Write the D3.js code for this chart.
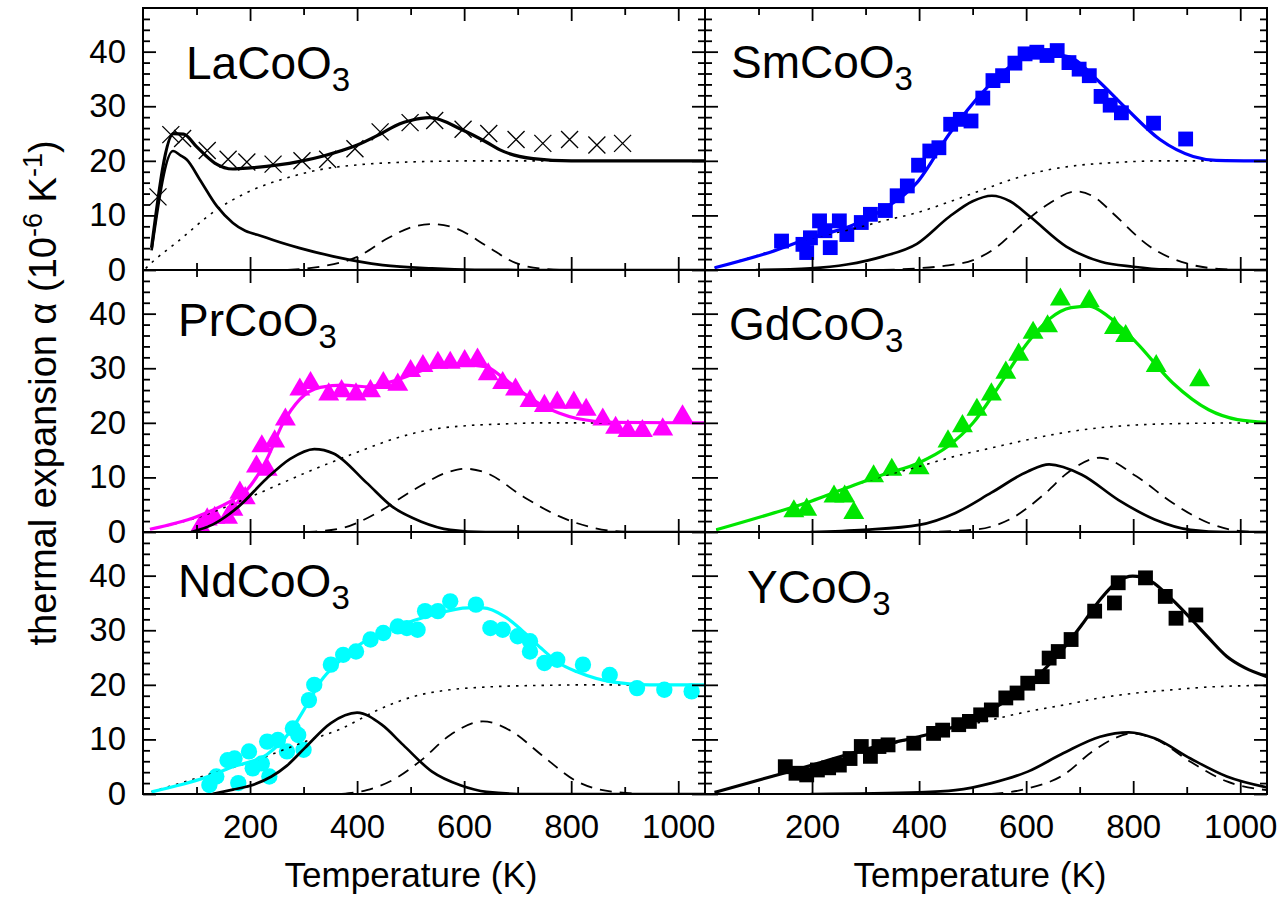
<!DOCTYPE html>
<html><head><meta charset="utf-8">
<script src="https://cdn.jsdelivr.net/npm/d3@7"></script>
<style>
html,body{margin:0;padding:0;background:#fff;}
svg text{font-family:"Liberation Sans",Arial,sans-serif;fill:#000;}
</style></head><body>
<svg id="chart" width="1280" height="903"></svg>
<script>
// ---------------- data (T in K, alpha in 1e-6 K^-1) ----------------
const xTicksMajor = [200, 400, 600, 800, 1000];
const xTicksMinor = [100, 300, 500, 700, 900];
const yTicksMajor = [0, 10, 20, 30, 40];
const yTicksMinor = [2, 4, 6, 8, 12, 14, 16, 18, 22, 24, 26, 28, 32, 34, 36, 38, 42, 44, 46];

// LaCoO3
const laData = [[28,13.4],[52,24.8],[74,24.1],[120,21.9],[159,20.3],[194,19.8],[243,19.4],[297,20.0],[345,20.3],[396,22.2],[443,25.3],[499,27.0],[545,27.4],[598,25.8],[646,25.0],[697,23.9],[747,23.2],[797,23.9],[848,22.9],[896,23.2]];
const laFit = [[16,4.1],[57,25.0],[76,24.9],[100,22.6],[134,19.6],[168,18.5],[201,18.7],[293,19.9],[337,20.9],[398,22.8],[445,25.0],[480,26.8],[500,27.4],[536,27.9],[598,25.6],[642,23.4],[667,22.0],[729,20.4],[800,20.0],[1050,20.0]];
const laComp1 = [[16,3.6],[56,21.8],[70,21.0],[82,20.2],[106,16.6],[138,11.7],[168,8.6],[231,5.9],[293,4.0],[355,2.5],[448,0.9],[540,0.3],[620,0.05],[700,0],[1050,0]];
const laComp2 = [[270,0],[337,0.7],[398,2.3],[459,5.9],[500,7.8],[540,8.4],[588,7.5],[642,4.4],[696,1.3],[744,0.25],[800,0],[1050,0]];
const laLattice = [[5,0.3],[19,1.6],[66,5.3],[134,10.8],[201,14.5],[270,16.9],[337,18.5],[405,19.3],[473,19.7],[540,19.9],[640,20.0],[1050,20.0]];

// SmCoO3
const smData = [[143,5.3],[183,4.7],[190,3.2],[197,5.9],[214,9.0],[224,7.2],[234,4.1],[251,9.0],[265,6.5],[292,8.7],[309,10.2],[337,10.9],[359,13.6],[378,15.4],[399,19.2],[420,21.8],[437,22.4],[459,26.7],[477,27.6],[497,27.3],[519,31.5],[538,34.7],[556,35.6],[579,37.9],[598,39.6],[620,39.9],[639,39.3],[658,40.2],[680,38.0],[699,36.8],[718,35.6],[740,31.8],[757,30.2],[778,28.8],[838,26.9],[898,24.0]];
const smFit = [[18,0.4],[129,3.5],[197,5.9],[271,8.0],[333,11.1],[396,16.0],[457,25.0],[519,32.6],[582,38.1],[632,39.7],[682,39.0],[731,35.0],[788,29.5],[850,23.9],[912,20.8],[955,20.1],[1050,20.0]];
const smComp1 = [[95,0],[197,0.3],[265,1.0],[333,2.5],[396,4.8],[457,9.8],[500,12.6],[536,13.6],[570,12.6],[607,9.8],[675,4.3],[740,1.5],[800,0.6],[860,0.1],[950,0],[1050,0]];
const smComp2 = [[332,0],[396,0.3],[450,0.8],[501,1.8],[545,4.2],[588,8.0],[640,12.0],[694,14.4],[730,13.2],[762,10.4],[831,4.3],[900,1.2],[960,0.2],[1009,0],[1050,0]];
const smLattice = [[18,0.4],[129,3.6],[197,5.8],[271,7.4],[333,9.0],[396,10.5],[460,12.6],[519,14.7],[580,16.8],[644,18.4],[700,19.2],[769,19.7],[850,20.0],[1050,20.0]];

// PrCoO3
const prData = [[107,1.0],[120,2.3],[134,2.6],[158,2.6],[168,4.1],[181,7.2],[191,6.2],[212,12.0],[232,11.4],[222,15.7],[246,16.6],[266,20.6],[293,26.1],[313,27.3],[347,25.2],[371,25.8],[398,25.2],[425,25.8],[449,27.3],[476,27.0],[500,29.5],[523,30.4],[551,31.0],[574,31.0],[601,31.3],[625,31.6],[645,28.9],[672,27.3],[696,26.1],[723,24.0],[750,23.1],[774,23.7],[805,23.7],[828,22.4],[859,20.6],[883,19.1],[906,18.5],[933,18.5],[971,18.8],[1008,21.2]];
const prFit = [[13,0.5],[100,2.8],[168,5.9],[190,7.3],[231,13.3],[262,20.0],[293,24.3],[331,26.5],[375,26.9],[418,26.6],[473,27.8],[540,30.1],[600,30.6],[640,30.3],[676,28.0],[710,25.5],[744,23.3],[777,21.8],[811,20.8],[879,20.1],[1050,20.0]];
const prComp1 = [[90,0],[131,1.4],[178,4.6],[231,9.8],[275,13.4],[320,15.2],[356,14.4],[418,9.0],[465,4.7],[520,1.9],[574,0.4],[640,0],[1050,0]];
const prComp2 = [[303,0],[371,0.7],[439,3.6],[507,7.8],[574,11.1],[601,11.6],[642,10.8],[710,6.5],[777,2.9],[845,0.7],[913,0],[1050,0]];
const prLattice = [[13,0.5],[100,2.6],[202,6.5],[303,10.8],[405,14.8],[473,17.2],[540,18.8],[608,19.5],[676,19.8],[744,20.0],[1050,20.0]];

// GdCoO3
const gdData = [[166,3.8],[190,4.1],[241,6.5],[261,6.5],[278,3.5],[315,10.2],[349,11.4],[400,11.7],[454,16.6],[481,19.4],[508,22.4],[535,25.2],[562,29.2],[586,32.5],[613,36.5],[640,37.7],[664,42.6],[718,42.3],[765,37.4],[786,35.9],[843,30.4],[924,27.8]];
const gdFit = [[21,0.4],[129,3.5],[197,5.6],[265,8.1],[332,10.5],[400,12.7],[454,15.7],[501,20.0],[549,26.7],[603,34.7],[643,39.0],[684,41.1],[718,41.4],[752,39.6],[806,34.7],[874,27.3],[941,22.4],[995,20.6],[1050,20.1]];
const gdComp1 = [[197,0],[298,0.4],[400,1.3],[468,3.5],[535,7.2],[603,11.1],[643,12.4],[704,10.5],[772,5.9],[840,2.3],[907,0.4],[975,0],[1050,0]];
const gdComp2 = [[400,0],[501,0.4],[569,2.3],[637,7.2],[677,10.8],[738,13.6],[806,10.2],[874,5.3],[941,1.65],[1009,0.1],[1050,0]];
const gdLattice = [[21,0.4],[129,3.5],[197,5.6],[265,8.1],[332,10.2],[400,12.0],[468,13.9],[535,15.4],[603,16.9],[670,18.2],[738,19.1],[806,19.6],[907,19.9],[1050,20.0]];

// NdCoO3
const ndData = [[124,1.65],[137,3.2],[158,6.2],[171,6.5],[178,2.0],[198,7.8],[205,4.7],[222,5.6],[236,3.2],[232,9.6],[252,9.9],[269,7.8],[280,12.0],[290,10.8],[300,8.1],[310,17.2],[320,20.0],[351,23.7],[374,25.5],[398,26.1],[425,28.3],[449,29.5],[476,30.7],[493,30.4],[513,30.1],[527,33.5],[551,33.5],[574,35.3],[622,34.7],[649,30.4],[672,30.1],[700,28.9],[723,28.0],[723,26.1],[750,24.0],[774,24.6],[822,23.7],[872,21.8],[923,19.4],[974,19.1],[1025,18.8]];
const ndFit = [[16,0.4],[119,3.1],[168,5.0],[231,7.2],[274,11.3],[306,16.3],[333,20.8],[362,23.9],[405,27.4],[473,30.6],[540,32.8],[608,34.1],[635,34.1],[676,32.5],[710,29.8],[744,26.7],[777,24.0],[811,22.4],[879,20.5],[947,20.0],[1050,20.0]];
const ndComp1 = [[130,0],[168,0.8],[200,1.5],[240,3.2],[269,5.2],[303,8.5],[351,13.0],[400,14.9],[446,12.7],[486,9.0],[540,4.1],[593,1.6],[642,0.4],[720,0],[1050,0]];
const ndComp2 = [[371,0],[418,0.7],[473,2.9],[520,6.2],[574,10.8],[635,13.3],[690,11.4],[744,7.2],[811,2.3],[879,0.4],[947,0],[1050,0]];
const ndLattice = [[16,0.4],[100,2.9],[202,5.9],[303,9.6],[371,12.0],[439,15.4],[507,17.9],[574,19.1],[642,19.6],[744,19.9],[850,20.0],[1050,20.0]];

// YCoO3
const yData = [[150,5.0],[170,3.8],[190,3.5],[210,4.4],[231,4.8],[251,5.3],[271,6.5],[292,8.7],[309,6.9],[325,8.7],[342,9.0],[390,9.3],[427,11.1],[444,11.7],[474,12.7],[494,13.3],[515,14.5],[535,15.4],[562,17.6],[583,18.5],[603,20.3],[630,21.5],[643,24.9],[660,26.1],[684,28.3],[728,33.5],[765,35.0],[772,38.7],[823,39.6],[860,36.2],[880,32.2],[917,32.8]];
const yFit = [[18,0.3],[150,3.9],[197,5.2],[265,7.2],[332,9.0],[400,10.5],[468,12.4],[535,15.4],[603,20.0],[670,26.7],[704,31.0],[738,35.6],[772,39.0],[799,39.9],[833,39.0],[873,35.6],[907,32.2],[941,28.6],[975,25.2],[1009,23.1],[1050,21.5]];
const yComp1 = [[197,0],[400,0.3],[468,0.7],[535,2.0],[603,4.1],[670,7.5],[738,10.5],[792,11.3],[840,10.2],[907,6.5],[975,3.2],[1050,1.2]];
const yComp2 = [[535,0],[603,1.0],[670,3.5],[724,7.8],[765,10.2],[799,11.1],[840,10.1],[907,5.9],[975,2.3],[1050,0.7]];
const yLattice = [[18,0.3],[197,5.2],[332,8.7],[434,11.4],[522,13.3],[603,15.1],[670,16.3],[738,17.6],[806,18.5],[873,19.1],[941,19.6],[1050,19.9]];

const formulas = ["LaCoO", "SmCoO", "PrCoO", "GdCoO", "NdCoO", "YCoO"];

// ---------------- layout & styling ----------------
const colX = [143, 705], rowY = [8, 270, 532];
const W = 562, H = 262;
const panels = [
  {f:0, col:0, row:0, data:laData, fit:laFit, c1:laComp1, c2:laComp2, lat:laLattice, marker:"cross",    color:"#000000", lx:43, ly:71},
  {f:1, col:1, row:0, data:smData, fit:smFit, c1:smComp1, c2:smComp2, lat:smLattice, marker:"square",   color:"#0000ff", lx:26, ly:70},
  {f:2, col:0, row:1, data:prData, fit:prFit, c1:prComp1, c2:prComp2, lat:prLattice, marker:"triangle", color:"#ff00ff", lx:35, ly:66},
  {f:3, col:1, row:1, data:gdData, fit:gdFit, c1:gdComp1, c2:gdComp2, lat:gdLattice, marker:"triangle", color:"#00e600", lx:24, ly:70},
  {f:4, col:0, row:2, data:ndData, fit:ndFit, c1:ndComp1, c2:ndComp2, lat:ndLattice, marker:"circle",   color:"#00ffff", lx:35, ly:65},
  {f:5, col:1, row:2, data:yData,  fit:yFit,  c1:yComp1,  c2:yComp2,  lat:yLattice,  marker:"square",   color:"#000000", lx:42, ly:71}
];

const svg = d3.select("#chart");
const x = d3.scaleLinear().domain([0, 1050]).range([0, W]);
const y = d3.scaleLinear().domain([0, 48]).range([H, 0]);
const line = d3.line().x(d => x(d[0])).y(d => y(d[1])).curve(d3.curveMonotoneX);

const defs = svg.append("defs");
defs.append("clipPath").attr("id", "clipP").append("rect")
  .attr("x", 0).attr("y", 0).attr("width", W).attr("height", H);

panels.forEach((p, i) => {
  const g = svg.append("g").attr("transform", `translate(${colX[p.col]},${rowY[p.row]})`);

  // markers
  const mg = g.append("g");
  if (p.marker === "cross") {
    mg.selectAll("path").data(p.data).join("path")
      .attr("transform", d => `translate(${x(d[0])},${y(d[1])})`)
      .attr("d", "M-8.5,-8.5L8.5,8.5M-8.5,8.5L8.5,-8.5")
      .attr("stroke", "#000").attr("stroke-width", 1.3).attr("fill", "none");
  } else {
    const type = p.marker === "square" ? d3.symbolSquare : p.marker === "triangle" ? d3.symbolTriangle : d3.symbolCircle;
    const size = p.marker === "square" ? 220 : p.marker === "triangle" ? 190 : 210;
    mg.selectAll("path").data(p.data).join("path")
      .attr("transform", d => `translate(${x(d[0])},${y(d[1])})`)
      .attr("d", d3.symbol().type(type).size(size)())
      .attr("fill", p.color);
  }

  // curves
  const cg = g.append("g").attr("clip-path", "url(#clipP)").attr("fill", "none");
  cg.append("path").attr("d", line(p.lat)).attr("stroke", "#000").attr("stroke-width", 1.6).attr("stroke-dasharray", "2.5,6");
  cg.append("path").attr("d", line(p.c2)).attr("stroke", "#000").attr("stroke-width", 1.8).attr("stroke-dasharray", "12,8");
  cg.append("path").attr("d", line(p.c1)).attr("stroke", "#000").attr("stroke-width", 2.7);
  cg.append("path").attr("d", line(p.fit)).attr("stroke", p.color).attr("stroke-width", 3.2).attr("stroke-linejoin", "round");

  // axes (ticks inside on all four sides)
  const styleAxis = sel => {
    sel.select(".domain").remove();
    sel.selectAll(".tick line").attr("stroke", "#000").attr("stroke-width", 1.8);
    sel.selectAll(".tick text").attr("font-size", 33).attr("font-family", '"Liberation Sans",Arial,sans-serif').attr("fill", "#000");
    sel.attr("font-family", null).attr("font-size", null);
  };
  const bottomLab = p.row === 2 ? d3.format("d") : () => "";
  const leftLab = p.col === 0 ? d3.format("d") : () => "";
  g.append("g").attr("transform", `translate(0,${H})`)
    .call(d3.axisBottom(x).tickValues(xTicksMajor).tickSize(-13).tickPadding(21).tickFormat(bottomLab)).call(styleAxis);
  g.append("g").attr("transform", `translate(0,${H})`)
    .call(d3.axisBottom(x).tickValues(xTicksMinor).tickSize(-7).tickFormat(() => "")).call(styleAxis);
  g.append("g")
    .call(d3.axisTop(x).tickValues(xTicksMajor).tickSize(-13).tickFormat(() => "")).call(styleAxis);
  g.append("g")
    .call(d3.axisTop(x).tickValues(xTicksMinor).tickSize(-7).tickFormat(() => "")).call(styleAxis);
  g.append("g")
    .call(d3.axisLeft(y).tickValues(yTicksMajor).tickSize(-13).tickPadding(17).tickFormat(leftLab)).call(styleAxis);
  g.append("g")
    .call(d3.axisLeft(y).tickValues(yTicksMinor).tickSize(-7).tickFormat(() => "")).call(styleAxis);
  g.append("g").attr("transform", `translate(${W},0)`)
    .call(d3.axisRight(y).tickValues(yTicksMajor).tickSize(-13).tickFormat(() => "")).call(styleAxis);
  g.append("g").attr("transform", `translate(${W},0)`)
    .call(d3.axisRight(y).tickValues(yTicksMinor).tickSize(-7).tickFormat(() => "")).call(styleAxis);

  // frame
  g.append("rect").attr("width", W).attr("height", H).attr("fill", "none").attr("stroke", "#000").attr("stroke-width", 2);

  // compound label
  const t = g.append("text").attr("x", p.lx).attr("y", p.ly).attr("font-size", 46);
  t.append("tspan").text(formulas[p.f]);
  t.append("tspan").attr("font-size", 33).attr("dy", 12).text("3");
});

// axis titles
[411, 980].forEach(cx => {
  svg.append("text").attr("x", cx).attr("y", 887).attr("text-anchor", "middle")
    .attr("font-size", 35).text("Temperature (K)");
});
const yt = svg.append("text").attr("transform", "translate(56,393) rotate(-90)")
  .attr("text-anchor", "middle").attr("font-size", 38);
yt.append("tspan").text("thermal expansion \u03b1 (10");
yt.append("tspan").attr("font-size", 27).attr("dy", -14).text("-6");
yt.append("tspan").attr("dy", 14).text(" K");
yt.append("tspan").attr("font-size", 27).attr("dy", -14).text("-1");
yt.append("tspan").attr("dy", 14).text(")");
</script>
</body></html>
